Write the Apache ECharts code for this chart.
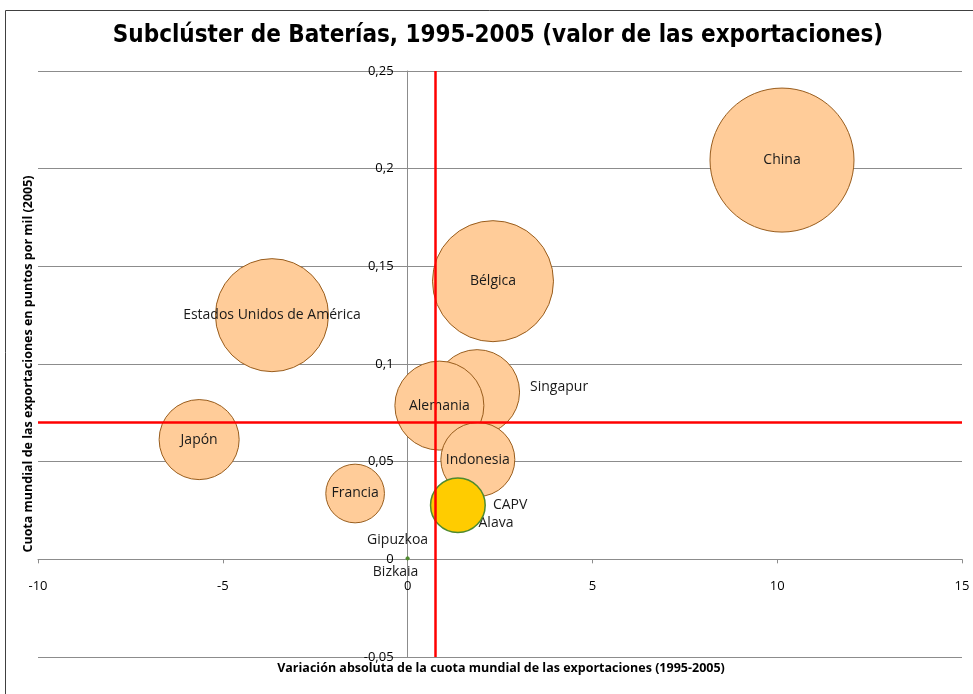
<!DOCTYPE html>
<html>
<head>
<meta charset="utf-8">
<script src="https://cdn.jsdelivr.net/npm/echarts@6/dist/echarts.min.js"></script>
<style>
  html, body { margin: 0; padding: 0; background: #fff; }
  #chart { width: 973px; height: 694px; }
</style>
</head>
<body>
<div id="chart"></div>
<script>
// datos
const paises = ['China', 'Bélgica', 'Estados Unidos de América', 'Singapur', 'Alemania', 'Japón', 'Indonesia', 'Francia'];
const paisesX = [10.13, 2.31, -3.67, 1.88, 0.86, -5.64, 1.90, -1.42];
const paisesY = [0.2044, 0.1424, 0.125, 0.0856, 0.0787, 0.0613, 0.0511, 0.0337];
const paisesValor = [100, 70.6, 61.6, 34.8, 38.2, 30.9, 26.4, 16.6];

const capv = { nombre: 'CAPV', x: 1.36, y: 0.0277, valor: 14.4 };

const territorios = ['Alava', 'Gipuzkoa', 'Bizkaia'];
const territoriosX = [1.58, 0.0, 0.0];
const territoriosY = [0.0184, 0.0005, 0.0003];
const territoriosValor = [0.7, 0.05, 0.02];

// líneas de referencia (medias)
const mediaX = 0.74;
const mediaY = 0.07;

const xTicks = [-10, -5, 0, 5, 10, 15];
const yTicks = [-0.05, 0, 0.05, 0.1, 0.15, 0.2, 0.25];

const tituloX = 'Variación absoluta de la cuota mundial de las exportaciones (1995-2005)';
const tituloY = 'Cuota mundial de las exportaciones en puntos por mil (2005)';

// tamaño de burbuja: área proporcional al valor
const maxValor = Math.max(...paisesValor);
const tam = v => 144 * Math.sqrt(v / maxValor);

const fuente = '"Open Sans", sans-serif';

// posición de etiquetas
const etiquetaPais = {
  'Singapur': { position: 'right', distance: 10, offset: [0, -5] }
};
const etiquetaTerritorio = {
  'Alava': { position: 'right', distance: 6, offset: [0, 0] },
  'Gipuzkoa': { position: 'top', distance: 5, offset: [-10, -4] },
  'Bizkaia': { position: 'bottom', distance: 5, offset: [-12, 0] }
};

const datosPaises = paises.map((n, i) => {
  const item = { name: n, value: [paisesX[i], paisesY[i], paisesValor[i]] };
  if (etiquetaPais[n]) item.label = etiquetaPais[n];
  return item;
});
const datosTerritorios = territorios.map((n, i) => ({
  name: n,
  value: [territoriosX[i], territoriosY[i], territoriosValor[i]],
  label: etiquetaTerritorio[n]
}));

const fmtY = v => {
  const r = Math.round(v * 100) / 100;
  return String(r).replace('.', ',');
};

const chart = echarts.init(document.getElementById('chart'));
chart.setOption({
  animation: false,
  title: {
    text: 'Subclúster de Baterías, 1995-2005 (valor de las exportaciones)',
    left: 493,
    top: 19,
    textAlign: 'center',
    textStyle: { fontFamily: '"Liberation Sans Narrow", "DejaVu Sans Condensed", sans-serif', fontWeight: 'bold', fontSize: 24, color: '#000' }
  },
  graphic: [
    {
      type: 'rect',
      shape: { x: 5.5, y: 10.5, width: 1200, height: 1200 },
      style: { fill: 'none', stroke: '#404040', lineWidth: 1 },
      silent: true
    },
    {
      type: 'text',
      x: 501, y: 668,
      style: { text: tituloX, x: 0, y: 0, align: 'center', verticalAlign: 'middle', font: 'bold 12.5px "Open Sans", sans-serif', fill: '#000' },
      silent: true
    },
    {
      type: 'text',
      x: 28, y: 364,
      rotation: Math.PI / 2,
      style: { text: tituloY, x: 0, y: 0, align: 'center', verticalAlign: 'middle', font: 'bold 12.5px "Open Sans", sans-serif', fill: '#000' },
      silent: true
    }
  ],
  grid: { left: 38, right: 11, top: 71, bottom: 37, outerBoundsMode: 'none' },
  xAxis: {
    type: 'value',
    position: 'bottom',
    min: xTicks[0],
    max: xTicks[xTicks.length - 1],
    interval: 5,
    axisLine: { onZero: false, lineStyle: { color: '#8c8c8c', width: 1 } },
    axisTick: { show: true, length: 4, lineStyle: { color: '#8c8c8c' } },
    axisLabel: { margin: 20, fontFamily: fuente, fontSize: 13, color: '#000' },
    splitLine: { show: false }
  },
  yAxis: {
    type: 'value',
    position: 'left',
    min: yTicks[0],
    max: yTicks[yTicks.length - 1],
    interval: 0.05,
    axisLine: { onZero: false, lineStyle: { color: '#8c8c8c', width: 1 } },
    axisTick: { show: true, length: 4, lineStyle: { color: '#8c8c8c' } },
    axisLabel: { margin: 14, fontFamily: fuente, fontSize: 13, color: '#000', formatter: fmtY },
    splitLine: { show: true, lineStyle: { color: '#8c8c8c', width: 1 } }
  },
  series: [
    {
      type: 'scatter',
      data: datosPaises,
      symbolSize: d => tam(d[2]),
      itemStyle: { color: '#FFCC99', borderColor: '#985C1C', borderWidth: 1, opacity: 1 },
      label: {
        show: true, position: 'inside', formatter: '{b}',
        fontFamily: fuente, fontSize: 14, color: '#1a1a1a'
      },
      z: 2
    },
    {
      type: 'scatter',
      data: datosTerritorios,
      symbolSize: d => Math.max(tam(d[2]), 2),
      itemStyle: { color: '#4F8A2E', borderColor: '#4F8A2E', borderWidth: 1, opacity: 1 },
      label: {
        show: true, formatter: '{b}',
        fontFamily: fuente, fontSize: 14, color: '#1a1a1a'
      },
      z: 2
    },
    {
      type: 'scatter',
      data: [{ name: capv.nombre, value: [capv.x, capv.y, capv.valor] }],
      symbolSize: d => tam(d[2]),
      itemStyle: { color: '#FFCC00', borderColor: '#4F8A2E', borderWidth: 1.5, opacity: 1 },
      label: {
        show: true, position: 'right', distance: 7, formatter: '{b}',
        fontFamily: fuente, fontSize: 14, color: '#1a1a1a'
      },
      z: 3
    },
    {
      type: 'scatter',
      data: [],
      z: 5,
      markLine: {
        silent: true,
        symbol: 'none',
        label: { show: false },
        lineStyle: { color: '#FF0000', width: 2.5, type: 'solid' },
        data: [{ xAxis: mediaX }, { yAxis: mediaY }]
      }
    }
  ]
});

// mover los ejes al cero (los ejes se cruzan en 0,0), usando la escala del gráfico
const pCero = chart.convertToPixel({ gridIndex: 0 }, [0, 0]);
const pMin = chart.convertToPixel({ gridIndex: 0 }, [xTicks[0], yTicks[0]]);
chart.setOption({
  xAxis: { offset: -(pMin[1] - pCero[1]) },
  yAxis: { offset: -(pCero[0] - pMin[0]) }
});
</script>
</body>
</html>
